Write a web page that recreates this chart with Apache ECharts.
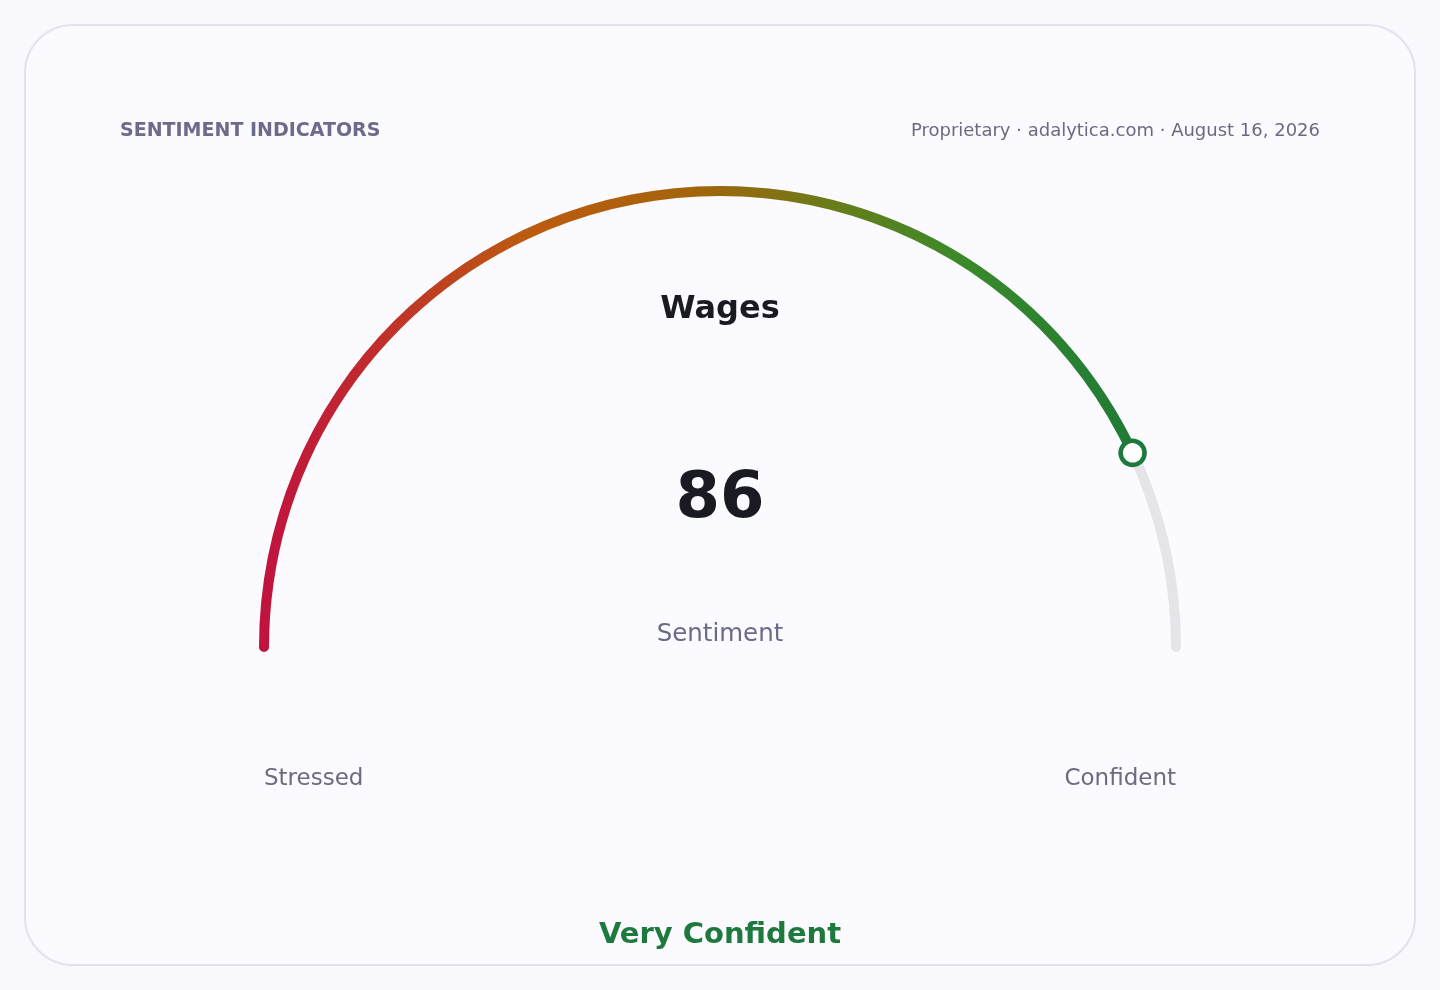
<!DOCTYPE html>
<html>
<head>
<meta charset="utf-8">
<script src="https://cdn.jsdelivr.net/npm/echarts@6/dist/echarts.min.js"></script>
<style>
html,body{margin:0;padding:0;background:#f8f8fd;}
#chart{width:1440px;height:990px;}
</style>
</head>
<body>
<div id="chart"></div>
<script>
const headerTitle = 'SENTIMENT INDICATORS';
const headerSource = 'Proprietary · adalytica.com · August 16, 2026';
const gaugeName = 'Wages';
const gaugeValue = 86;
const gaugeMin = 0;
const gaugeMax = 100;
const valueCaption = 'Sentiment';
const endLabels = ['Stressed', 'Confident'];
const verdict = 'Very Confident';

const FONT = '"DejaVu Sans", sans-serif';
const chart = echarts.init(document.getElementById('chart'), null, {renderer: 'canvas'});

const common = {
  type: 'gauge',
  center: [720, 647],
  radius: 461,
  startAngle: 180,
  endAngle: 0,
  min: gaugeMin,
  max: gaugeMax,
  anchor: {show: false},
  axisTick: {show: false},
  splitLine: {show: false},
  axisLabel: {show: false},
  title: {show: false},
  detail: {show: false},
  animation: false,
  data: [{value: gaugeValue, name: gaugeName}]
};

const option = {
  backgroundColor: '#f8f8fd',
  graphic: [
    {type: 'rect', z: -10, shape: {x: 25, y: 25, width: 1390, height: 940, r: 48},
     style: {fill: '#fafaff', stroke: '#e2e2ef', lineWidth: 2}},
    {type: 'text', x: 120, y: 131, style: {text: headerTitle, fill: '#6b6b8a', font: 'bold 19px ' + FONT, align: 'left', verticalAlign: 'middle'}},
    {type: 'text', x: 1320, y: 131, style: {text: headerSource, fill: '#6b6b80', font: '18px ' + FONT, align: 'right', verticalAlign: 'middle'}},
    {type: 'text', x: 720, y: 310, style: {text: gaugeName, fill: '#1a1a22', font: 'bold 32px ' + FONT, align: 'center', verticalAlign: 'middle'}},
    {type: 'text', x: 720, y: 500, style: {text: String(gaugeValue), fill: '#1a1a22', font: 'bold 64px ' + FONT, align: 'center', verticalAlign: 'middle'}},
    {type: 'text', x: 720, y: 635, style: {text: valueCaption, fill: '#6b6b88', font: '24.5px ' + FONT, align: 'center', verticalAlign: 'middle'}},
    {type: 'text', x: 264, y: 779, style: {text: endLabels[0], fill: '#6b6b80', font: '23px ' + FONT, align: 'left', verticalAlign: 'middle'}},
    {type: 'text', x: 1176, y: 779, style: {text: endLabels[1], fill: '#6b6b80', font: '23px ' + FONT, align: 'right', verticalAlign: 'middle'}},
    {type: 'text', x: 720, y: 935, style: {text: verdict, fill: '#1e7a3c', font: 'bold 29px ' + FONT, align: 'center', verticalAlign: 'middle'}}
  ],
  series: [
    Object.assign({}, common, {
      z: 2,
      axisLine: {roundCap: true, lineStyle: {width: 10, color: [[1, '#e4e4e9']]}},
      progress: {
        show: true, roundCap: true, width: 10,
        itemStyle: {
          color: {
            type: 'linear', x: 0, y: 0, x2: 1, y2: 0,
            colorStops: [
              {offset: 0, color: '#c0123e'},
              {offset: 0.12, color: '#c02a2e'},
              {offset: 0.3, color: '#bd5a10'},
              {offset: 0.5, color: '#a3650a'},
              {offset: 0.64, color: '#6e7a18'},
              {offset: 0.8, color: '#3a8a2a'},
              {offset: 1, color: '#1f7a36'}
            ]
          }
        }
      },
      pointer: {show: false}
    }),
    Object.assign({}, common, {
      z: 5,
      axisLine: {show: false},
      progress: {show: false},
      pointer: {
        show: true,
        icon: 'circle',
        width: 24,
        length: 24,
        offsetCenter: [0, -444],
        keepAspect: true,
        itemStyle: {color: '#ffffff', borderColor: '#1e7a3c', borderWidth: 4.5}
      }
    })
  ]
};
chart.setOption(option);
</script>
</body>
</html>
